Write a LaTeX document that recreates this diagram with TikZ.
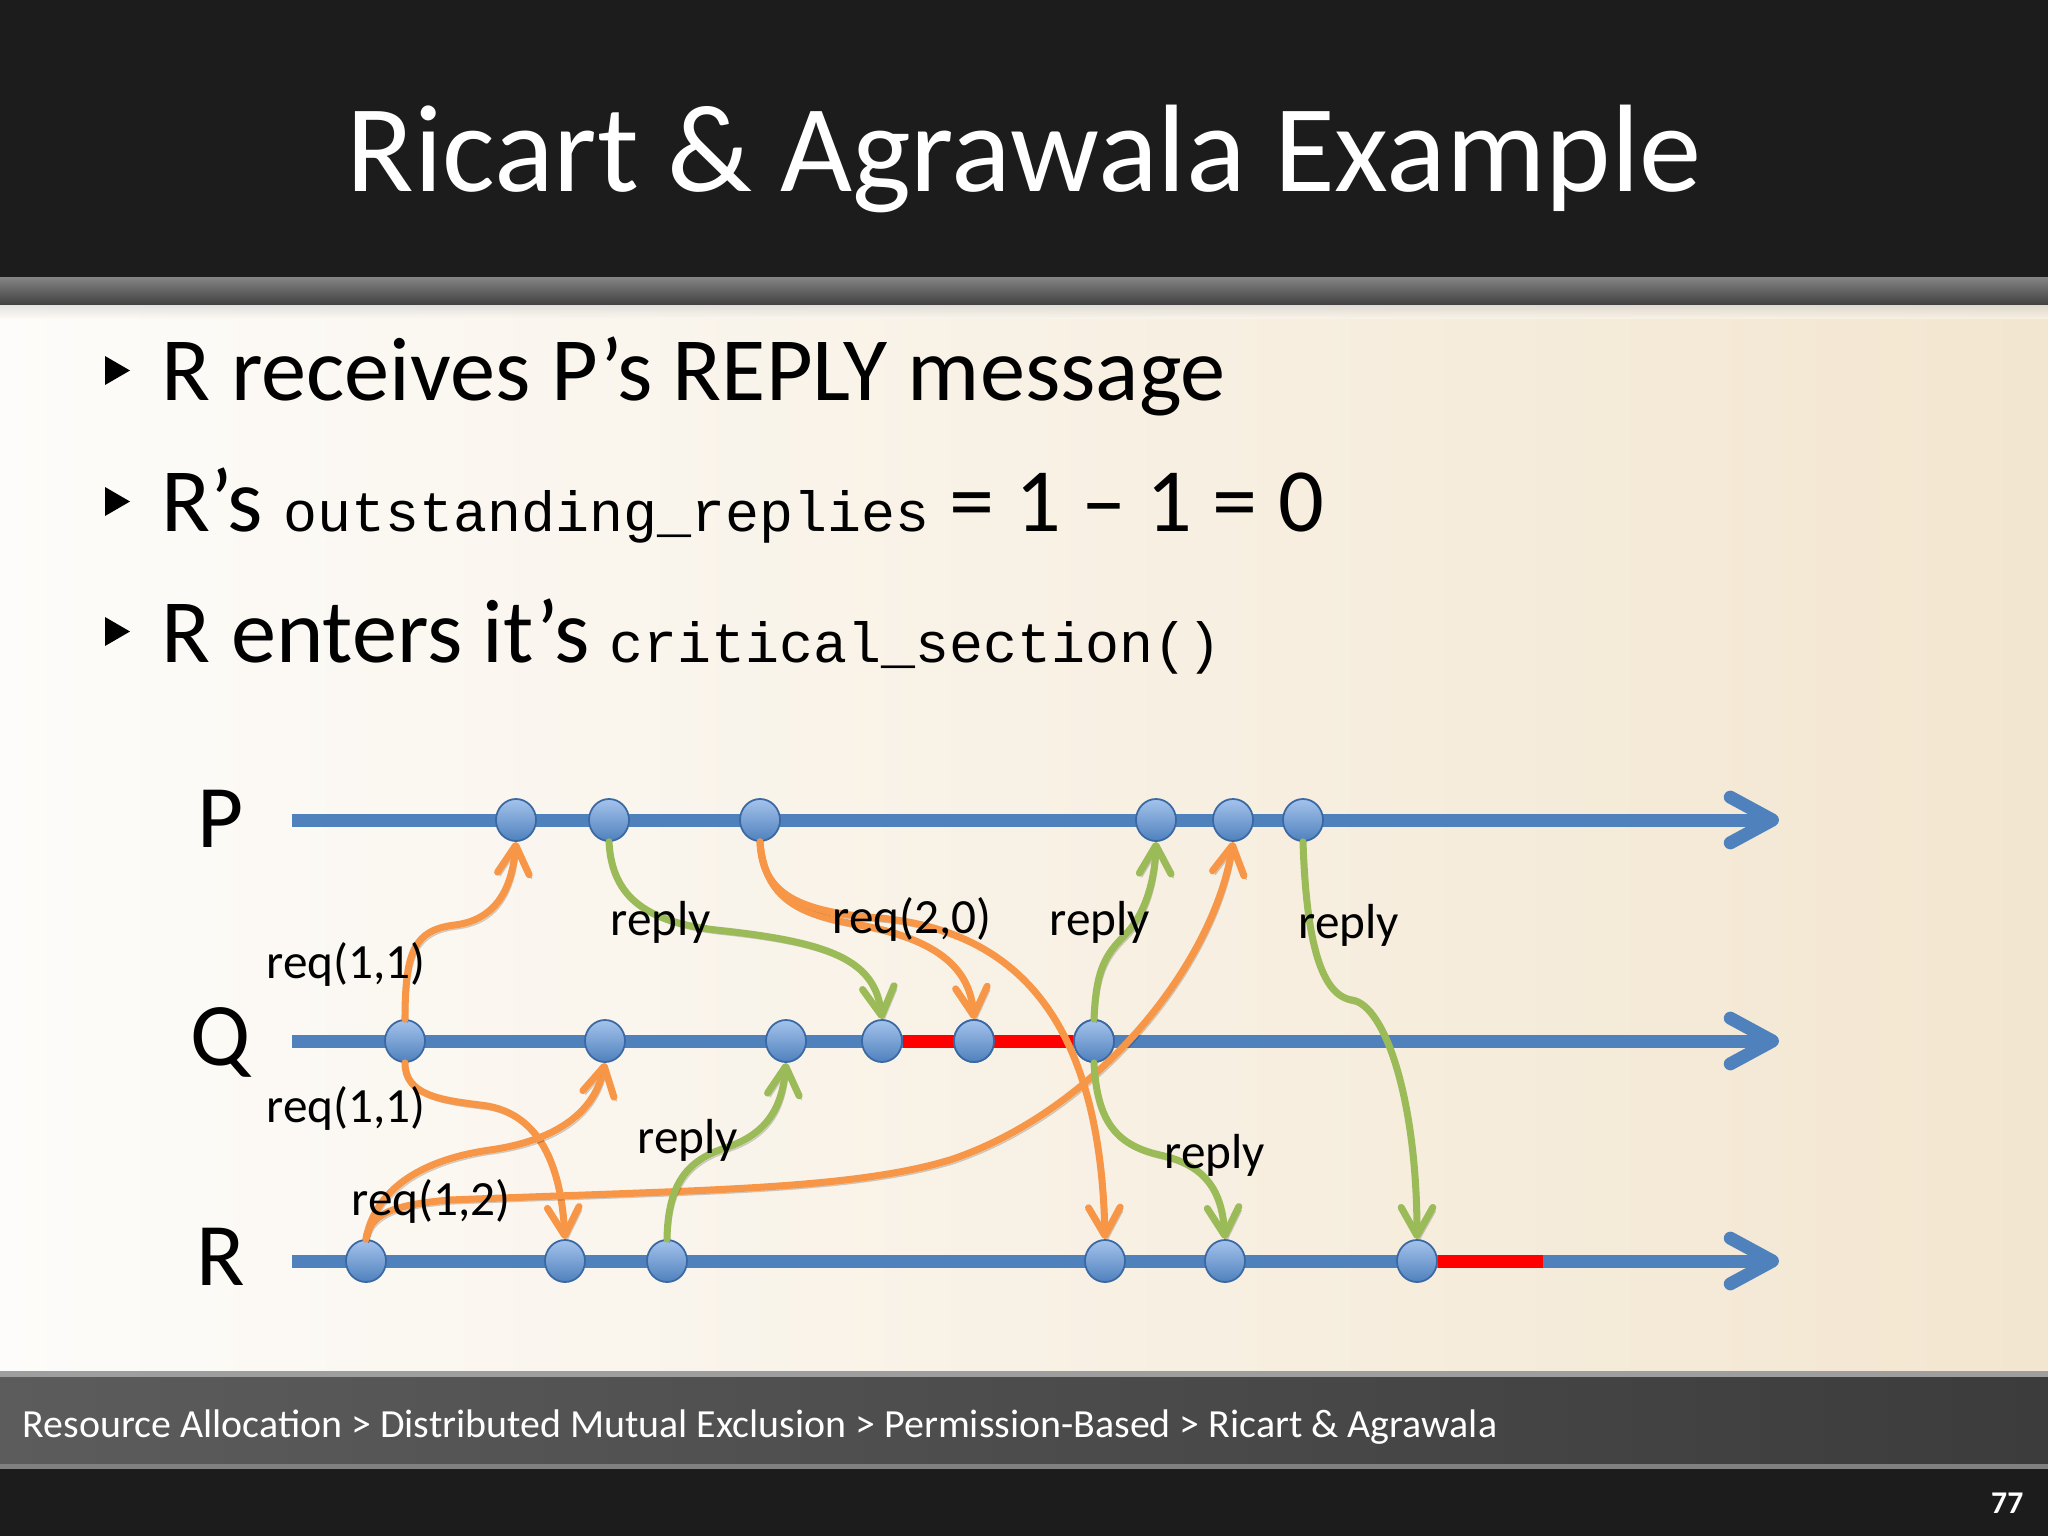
\documentclass[tikz,border=0pt]{standalone}
\usepackage{fontspec}
\setmainfont{Carlito}
\newfontfamily\codefont{Liberation Mono}
\usetikzlibrary{arrows.meta,shapes.geometric}
\definecolor{tblue}{HTML}{4F81BD}
\definecolor{nodetop}{HTML}{A4C3EC}
\definecolor{nodeedge}{HTML}{3A68A3}
\definecolor{torange}{HTML}{F79646}
\definecolor{tgreen}{HTML}{9BBB59}
\definecolor{tred}{HTML}{FF0000}
\definecolor{titlebg}{HTML}{1C1C1C}
\definecolor{bodyleft}{HTML}{FDFCFA}
\definecolor{bodymid}{HTML}{FBF7F0}
\definecolor{bodyright}{HTML}{F3E6D0}
\definecolor{footleft}{HTML}{5C5C5C}
\definecolor{footright}{HTML}{3C3C3C}
\begin{document}
\begin{tikzpicture}[x=0.01cm,y=-0.01cm,
  softshadow/.style={preaction={draw=black,draw opacity=0.18,transform canvas={xshift=0.7pt,yshift=-1.1pt}}},
  timeline/.style={line width=3.7pt,draw=tblue,-{Straight Barb[length=12pt,width=13pt,round]},softshadow},
  crit/.style={line width=3.7pt,draw=tred},
  evt/.style={ellipse,minimum width=0.40cm,minimum height=0.42cm,inner sep=0pt,draw=nodeedge,line width=0.5pt,top color=nodetop,bottom color=tblue},
  msg/.style={line width=2pt,line cap=round,-{Straight Barb[length=8pt,width=9pt,round]},softshadow},
  req/.style={msg,draw=torange},
  rep/.style={msg,draw=tgreen},
  lbl/.style={anchor=base,inner sep=0pt,font=\fontsize{14}{17}\selectfont},
  proc/.style={anchor=base,inner sep=0pt,font=\fontsize{25.4}{30}\selectfont},
  bullettext/.style={anchor=base west,inner sep=0pt,font=\fontsize{25.7}{30}\selectfont}
]
\useasboundingbox (0,0) rectangle (2048,1536);
% background bands
\fill[titlebg] (0,0) rectangle (2048,277);
\shade[top color=black!48,bottom color=black!75] (0,277) rectangle (2048,305);
\shade[left color=bodyleft,middle color=bodymid,right color=bodyright] (0,305) rectangle (2048,1375);
\shade[top color=black!20,bottom color=bodymid,opacity=0.5] (0,305) rectangle (2048,318);
\shade[left color=footleft,right color=footright] (0,1375) rectangle (2048,1467);
\fill[black!38] (0,1371) rectangle (2048,1377);
\fill[black!50] (0,1464) rectangle (2048,1469);
\fill[titlebg] (0,1469) rectangle (2048,1536);

% title and footer
\node[anchor=base,inner sep=0pt,text=white,font=\fontsize{35.4}{42}\selectfont] (title) at (1024,191) {Ricart \& Agrawala Example};
\node[anchor=base west,inner sep=0pt,text=white,font=\fontsize{11.35}{14}\selectfont] (crumb) at (22,1437) {Resource Allocation > Distributed Mutual Exclusion > Permission-Based > Ricart \& Agrawala};
\node[anchor=base east,inner sep=0pt,text=white,font=\bfseries\fontsize{9}{11}\selectfont] (pageno) at (2024,1513) {77};

% bullets
\fill[black] (105,356) -- (105,385) -- (130,370.5) -- cycle;
\fill[black] (105,487) -- (105,516) -- (130,501.5) -- cycle;
\fill[black] (105,617) -- (105,646) -- (130,631.5) -- cycle;
\node[bullettext] (b1) at (161,400) {R receives P’s REPLY message};
\node[bullettext] (b2) at (161,531) {R’s {\codefont\fontsize{16.1}{19}\selectfont outstanding\_replies} = 1 – 1 = 0};
\node[bullettext] (b3) at (161,662) {R enters it’s {\codefont\fontsize{16.1}{19}\selectfont critical\_section()}};

% process labels
\node[proc] (Plab) at (221,847) {P};
\node[proc] (Qlab) at (221,1065) {Q};
\node[proc] (Rlab) at (221,1285) {R};

% timelines
\coordinate (Ps) at (292,820); \coordinate (Pe) at (1779,820);
\coordinate (Qs) at (292,1041); \coordinate (Qe) at (1779,1041);
\coordinate (Rs) at (292,1261); \coordinate (Re) at (1779,1261);
\draw[timeline] (Ps) -- (Pe);
\draw[timeline] (Qs) -- (Qe);
\draw[timeline] (Rs) -- (Re);

% events
\node[evt] (P1) at (516,820) {};
\node[evt] (P2) at (609,820) {};
\node[evt] (P3) at (760,820) {};
\node[evt] (P4) at (1156,820) {};
\node[evt] (P5) at (1233,820) {};
\node[evt] (P6) at (1303,820) {};
\node[evt] (Q1) at (405,1041) {};
\node[evt] (Q2) at (605,1041) {};
\node[evt] (Q3) at (786,1041) {};
\node[evt] (Q4) at (882,1041) {};
\node[evt] (Q5) at (974,1041) {};
\node[evt] (Q6) at (1094,1041) {};
\node[evt] (R1) at (366,1261) {};
\node[evt] (R2) at (565,1261) {};
\node[evt] (R3) at (667,1261) {};
\node[evt] (R4) at (1105,1261) {};
\node[evt] (R5) at (1225,1261) {};
\node[evt] (R6) at (1417,1261) {};

% critical sections
\coordinate (RcsEnd) at (1543,1261);
\draw[crit] (Q4.east) -- (Q6.west);
\draw[crit] (R6.east) -- (RcsEnd);
\node[evt] at (Q5) {};
\node[evt] at (Q6) {};

% messages
\draw[req] (Q1.north) .. controls (405,950) and (415,930) .. (455,925) .. controls (495,920) and (512,890) .. (P1.south);
\draw[req] (Q1.south) .. controls (405,1095) and (440,1100) .. (480,1105) .. controls (530,1110) and (560,1150) .. (R2.north);
\draw[req] (R1.north) .. controls (375,1190) and (420,1160) .. (490,1150) .. controls (560,1140) and (595,1110) .. (Q2.south);
\draw[req] (R1.north) .. controls (370,1215) and (390,1205) .. (450,1200) .. controls (700,1190) and (850,1190) .. (950,1160) .. controls (1100,1110) and (1215,960) .. (P5.south);
\draw[rep] (P2.south) .. controls (612,900) and (650,922) .. (716,930) .. controls (830,942) and (875,960) .. (Q4.north);
\draw[req] (P3.south) .. controls (765,900) and (800,915) .. (860,925) .. controls (940,940) and (970,970) .. (Q5.north);
\draw[req] (P3.south) .. controls (762,895) and (800,912) .. (880,918) .. controls (1000,930) and (1100,1000) .. (R4.north);
\draw[rep] (Q6.north) .. controls (1096,970) and (1105,955) .. (1125,935) .. controls (1145,915) and (1155,880) .. (P4.south);
\draw[rep] (Q6.south) .. controls (1097,1120) and (1115,1145) .. (1160,1155) .. controls (1205,1165) and (1222,1190) .. (R5.north);
\draw[rep] (P6.south) .. controls (1306,930) and (1318,995) .. (1352,1000) .. controls (1385,1005) and (1417,1100) .. (R6.north);
\draw[rep] (R3.north) .. controls (668,1180) and (690,1160) .. (725,1148) .. controls (765,1135) and (782,1110) .. (Q3.south);

% message labels
\node[lbl] (l1) at (346,978) {req(1,1)};
\node[lbl] (l2) at (346,1122) {req(1,1)};
\node[lbl] (l3) at (431,1215) {req(1,2)};
\node[lbl] (l4) at (661,935) {reply};
\node[lbl] (l5) at (912,933) {req(2,0)};
\node[lbl] (l6) at (1100,935) {reply};
\node[lbl] (l7) at (1349,938) {reply};
\node[lbl] (l8) at (688,1153) {reply};
\node[lbl] (l9) at (1215,1168) {reply};
\end{tikzpicture}
\end{document}
